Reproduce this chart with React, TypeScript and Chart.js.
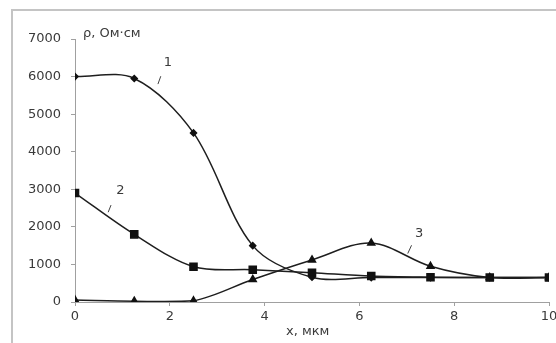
import React, { useEffect, useRef } from "react";
import { Chart, registerables } from "chart.js";

Chart.register(...registerables);

const xValues = [0, 1.25, 2.5, 3.75, 5, 6.25, 7.5, 8.75, 10];
const series1 = [6000, 5950, 4500, 1500, 660, 650, 650, 650, 650];
const series2 = [2900, 1800, 940, 860, 780, 690, 660, 650, 650];
const series3 = [50, 20, 30, 600, 1120, 1570, 950, 650, 650];
const xTicks = [0, 2, 4, 6, 8, 10];
const yTicks = [0, 1000, 2000, 3000, 4000, 5000, 6000, 7000];

// curve labels: text position and leader-stroke ends, in data units
const curveLabels = [
  { text: "1", x: 1.96, y: 6370, x1: 1.75, y1: 5800, x2: 1.81, y2: 6010 },
  { text: "2", x: 0.96, y: 2960, x1: 0.7, y1: 2390, x2: 0.76, y2: 2580 },
  { text: "3", x: 7.26, y: 1830, x1: 7.02, y1: 1290, x2: 7.1, y2: 1510 },
];

const FONT = "'DejaVu Sans', sans-serif";
const TEXT = "#3a3a3a";
const AXIS = "#a0a0a0";

export default function App() {
  const ref = useRef<HTMLCanvasElement | null>(null);
  useEffect(() => {
    if (!ref.current) return;
    const pts = (ys: number[]) => xValues.map((x, i) => ({ x, y: ys[i] }));
    const overlay = {
      id: "overlay",
      beforeDraw(chart: any) {
        const c = chart.ctx;
        c.save();
        c.fillStyle = "#ffffff";
        c.fillRect(0, 0, chart.width, chart.height);
        c.strokeStyle = "#c4c4c4";
        c.lineWidth = 2;
        c.beginPath();
        c.moveTo(12, chart.height + 5);
        c.lineTo(12, 10);
        c.lineTo(chart.width + 5, 10);
        c.stroke();
        c.restore();
      },
      afterDraw(chart: any) {
        const c = chart.ctx;
        const xs = chart.scales.x;
        const ys = chart.scales.y;
        c.save();
        c.fillStyle = TEXT;
        c.font = `13px ${FONT}`;
        c.textAlign = "center";
        c.textBaseline = "middle";
        c.strokeStyle = "#444";
        c.lineWidth = 1;
        for (const l of curveLabels) {
          c.fillText(l.text, xs.getPixelForValue(l.x), ys.getPixelForValue(l.y));
          c.beginPath();
          c.moveTo(xs.getPixelForValue(l.x1), ys.getPixelForValue(l.y1));
          c.lineTo(xs.getPixelForValue(l.x2), ys.getPixelForValue(l.y2));
          c.stroke();
        }
        c.textAlign = "left";
        c.fillText("ρ, Ом·см", chart.chartArea.left + 8, chart.chartArea.top - 5);
        c.fillText("x, мкм", 286, 332);
        c.restore();
      },
    };
    const common = {
      borderColor: "#1e1e1e",
      backgroundColor: "#111",
      pointBorderColor: "#111",
      pointBackgroundColor: "#111",
      borderWidth: 1.5,
      tension: 0.33,
      fill: false,
    };
    const chart = new Chart(ref.current, {
      type: "line",
      data: {
        datasets: [
          { ...common, label: "2", data: pts(series2), pointStyle: "rect", pointRadius: 5 },
          { ...common, label: "1", data: pts(series1), pointStyle: "rectRot", pointRadius: 3 },
          { ...common, label: "3", data: pts(series3), pointStyle: "triangle", pointRadius: 4 },
        ],
      },
      options: {
        animation: false,
        responsive: false,
        devicePixelRatio: 1,
        layout: { padding: { left: 0, top: 39, right: 7, bottom: 0 } },
        plugins: { legend: { display: false }, tooltip: { enabled: false } },
        scales: {
          x: {
            type: "linear",
            min: 0,
            max: 10,
            afterBuildTicks: (s: any) => {
              s.ticks = xTicks.map((v) => ({ value: v }));
            },
            afterFit: (s: any) => {
              s.height = 41;
              s.paddingLeft = 0;
              s.paddingRight = 0;
            },
            grid: { drawOnChartArea: false, color: AXIS, tickLength: 4, tickColor: AXIS },
            border: { color: AXIS, width: 1 },
            ticks: {
              color: TEXT,
              font: { family: FONT, size: 13 },
              padding: 3,
              maxRotation: 0,
              autoSkip: false,
              callback: (v: any) => String(v),
            },
          },
          y: {
            type: "linear",
            min: 0,
            max: 7000,
            afterBuildTicks: (s: any) => {
              s.ticks = yTicks.map((v) => ({ value: v }));
            },
            afterFit: (s: any) => {
              s.width = 75;
              s.paddingTop = 0;
              s.paddingBottom = 0;
            },
            grid: { drawOnChartArea: false, color: AXIS, tickLength: 4, tickColor: AXIS },
            border: { color: AXIS, width: 1 },
            ticks: {
              color: TEXT,
              font: { family: FONT, size: 13 },
              padding: 10,
              autoSkip: false,
              callback: (v: any) => String(v),
            },
          },
        },
      },
      plugins: [overlay],
    } as any);
    return () => chart.destroy();
  }, []);
  return (
    <div style={{ position: "fixed", left: 0, top: 0, width: 556, height: 343, background: "#fff" }}>
      <canvas ref={ref} width={556} height={343} style={{ display: "block", width: 556, height: 343 }} />
    </div>
  );
}
